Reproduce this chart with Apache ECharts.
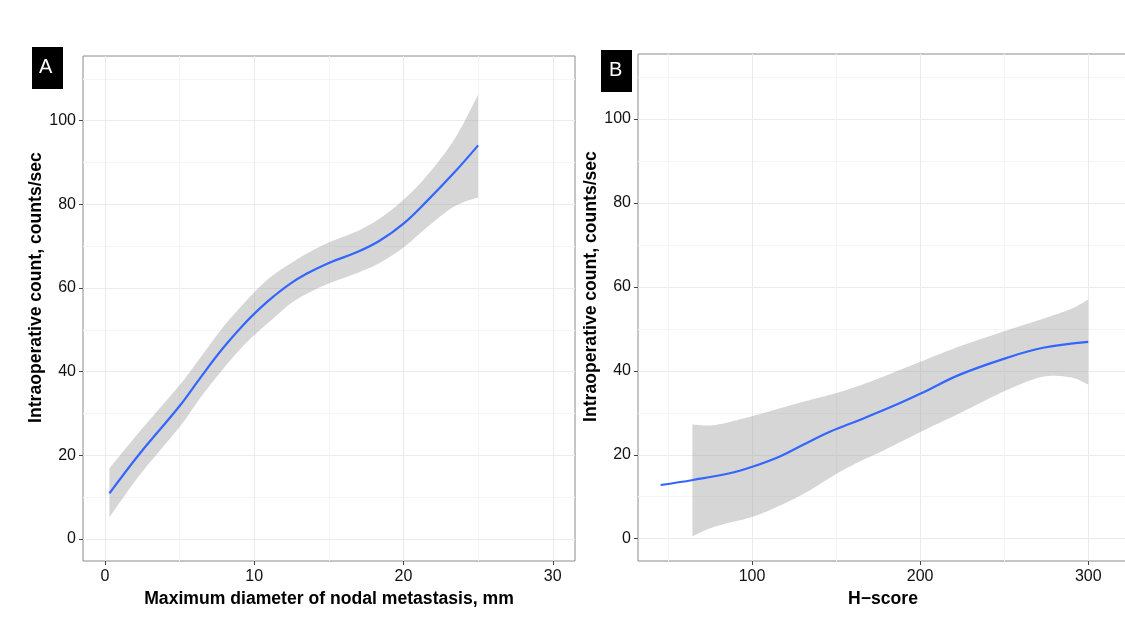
<!DOCTYPE html>
<html>
<head>
<meta charset="utf-8">
<script src="https://cdn.jsdelivr.net/npm/echarts@6/dist/echarts.min.js"></script>
<style>
html,body{margin:0;padding:0;background:#fff;}
#chart{width:1125px;height:631px;}
</style>
</head>
<body>
<div id="chart"></div>
<script>
// ---------- Panel A data ----------
const A_xTicks = [0, 10, 20, 30];
const A_xMinor = [5, 15, 25];
const yTicks = [0, 20, 40, 60, 80, 100];
const yMinor = [10, 30, 50, 70, 90, 110];

const A_fitX = [0.3, 2.35, 5, 6.4, 7.9, 9.3, 10.4, 11.3, 12.4, 13.5, 15, 16.9, 18.4, 20, 21.6, 23.4, 25];
const A_fitY = [10.9, 20.5, 31.8, 38.6, 45.6, 51.3, 55.2, 58.0, 61.0, 63.4, 66.0, 68.6, 71.3, 75.4, 80.9, 87.6, 94.1];
const A_bandX = [0.3, 2.35, 5, 6.4, 7.9, 9.3, 10.4, 11.3, 12.4, 13.5, 15, 16.9, 18.4, 20, 21.6, 23.4, 25];
const A_upper = [16.9, 25.8, 36.8, 43.4, 50.6, 56.3, 60.4, 63.2, 65.8, 68.2, 70.9, 73.6, 76.6, 81.1, 87.0, 95.5, 106.2];
const A_lower = [5.2, 15.4, 26.8, 33.8, 40.6, 46.3, 50.0, 52.8, 56.2, 58.6, 61.1, 63.6, 66.0, 69.7, 74.6, 79.5, 81.7];

// ---------- Panel B data ----------
const B_xTicks = [100, 200, 300];
const B_xMinor = [50, 150, 250];

const B_fitX = [45.6, 64.9, 86.7, 100.6, 116.5, 130.4, 146.3, 164, 183.9, 201.4, 223.6, 251.6, 273.2, 300];
const B_fitY = [12.8, 14.0, 15.6, 17.2, 19.6, 22.4, 25.5, 28.3, 31.6, 34.8, 39.1, 43.1, 45.5, 46.9];
const B_bandX = [64.5, 78, 100, 116, 132, 150, 164, 176, 201, 224, 252, 273, 290, 300];
const B_upper = [27.2, 27.1, 29.2, 31.0, 32.8, 34.7, 36.5, 38.3, 42.3, 45.9, 49.7, 52.4, 54.8, 57.0];
const B_lower = [0.6, 2.9, 5.2, 7.8, 11.0, 15.4, 18.4, 20.6, 25.6, 30.0, 35.5, 38.6, 38.4, 36.7];

const FONT = "'Liberation Sans', Arial, Helvetica, sans-serif";
const zip = (xs, ys) => xs.map((x, i) => [x, ys[i]]);

function mainX(grid, min, max, ticks, name, namePad) {
  return {
    gridIndex: grid, type: 'value', min: min, max: max,
    axisLine: {show: false, onZero: false},
    axisTick: {show: true, customValues: ticks, length: 4, lineStyle: {color: '#444', width: 1}},
    axisLabel: {customValues: ticks, margin: 8, fontSize: 16, color: '#111', fontFamily: FONT},
    splitLine: {show: true, lineStyle: {color: '#ebebeb', width: 1}},
    name: name, nameLocation: 'middle', nameGap: 21,
    nameTextStyle: {fontWeight: 'bold', fontSize: 17.6, color: '#000', fontFamily: FONT, padding: namePad}
  };
}
function minorX(grid, min, max, ticks) {
  return {
    gridIndex: grid, type: 'value', min: min, max: max, position: 'bottom',
    axisLine: {show: false, onZero: false},
    axisTick: {show: false, customValues: ticks},
    axisLabel: {show: false, customValues: ticks},
    splitLine: {show: true, lineStyle: {color: '#f5f5f5', width: 1}}
  };
}
function mainY(grid, min, max, ticks, name) {
  return {
    gridIndex: grid, type: 'value', min: min, max: max,
    axisLine: {show: false, onZero: false},
    axisTick: {show: true, customValues: ticks, length: 4, lineStyle: {color: '#444', width: 1}},
    axisLabel: {customValues: ticks, margin: 7, fontSize: 16, color: '#111', fontFamily: FONT},
    splitLine: {show: true, lineStyle: {color: '#ebebeb', width: 1}},
    name: name, nameLocation: 'middle', nameGap: 38,
    nameTextStyle: {fontWeight: 'bold', fontSize: 17.6, color: '#000', fontFamily: FONT,
                    padding: [0, 0, 0, 42]}
  };
}
function minorY(grid, min, max, ticks) {
  return {
    gridIndex: grid, type: 'value', min: min, max: max, position: 'left',
    axisLine: {show: false, onZero: false},
    axisTick: {show: false, customValues: ticks},
    axisLabel: {show: false, customValues: ticks},
    splitLine: {show: true, lineStyle: {color: '#f5f5f5', width: 1}}
  };
}

// Catmull-Rom curve through pixel points (rendering only)
function curvePts(p) {
  const out = [p[0]];
  const n = p.length;
  for (let i = 0; i < n - 1; i++) {
    const p0 = p[Math.max(0, i - 1)], p1 = p[i], p2 = p[i + 1], p3 = p[Math.min(n - 1, i + 2)];
    const c1 = [p1[0] + (p2[0] - p0[0]) / 6, p1[1] + (p2[1] - p0[1]) / 6];
    const c2 = [p2[0] - (p3[0] - p1[0]) / 6, p2[1] - (p3[1] - p1[1]) / 6];
    for (let k = 1; k <= 12; k++) {
      const t = k / 12, u = 1 - t;
      out.push([
        u*u*u*p1[0] + 3*u*u*t*c1[0] + 3*u*t*t*c2[0] + t*t*t*p2[0],
        u*u*u*p1[1] + 3*u*u*t*c1[1] + 3*u*t*t*c2[1] + t*t*t*p2[1]
      ]);
    }
  }
  return out;
}

function band(xi, yi, xs, lo, up) {
  return {
    type: 'custom', xAxisIndex: xi, yAxisIndex: yi, silent: true, z: 2, clip: true,
    data: xs.map((x, i) => [x, lo[i], up[i]]),
    encode: {x: 0, y: [1, 2]},
    renderItem: function (params, api) {
      if (params.dataIndex !== 0) return null;
      const upP = xs.map((x, i) => api.coord([x, up[i]]));
      const loP = xs.map((x, i) => api.coord([x, lo[i]]));
      const pts = curvePts(upP).concat(curvePts(loP).reverse());
      return {type: 'polygon', shape: {points: pts}, style: {fill: 'rgba(153,153,153,0.4)'}};
    }
  };
}
function fit(xi, yi, xs, ys) {
  return {type: 'line', xAxisIndex: xi, yAxisIndex: yi, data: zip(xs, ys), symbol: 'none',
          smooth: 0.4, lineStyle: {color: '#3366ff', width: 2.2}, silent: true, z: 3};
}

const chart = echarts.init(document.getElementById('chart'), null, {renderer: 'canvas'});
chart.setOption({
  animation: false,
  backgroundColor: '#ffffff',
  grid: [
    {left: 83, top: 56, width: 492, height: 505, show: true, borderColor: '#8c8c8c', borderWidth: 1,
     backgroundColor: 'transparent', outerBoundsMode: 'none', containLabel: false},
    {left: 638, top: 54, width: 500, height: 507, show: true, borderColor: '#8c8c8c', borderWidth: 1,
     backgroundColor: 'transparent', outerBoundsMode: 'none', containLabel: false}
  ],
  xAxis: [
    mainX(0, -1.47, 31.49, A_xTicks, 'Maximum diameter of nodal metastasis, mm', 0),
    minorX(0, -1.47, 31.49, A_xMinor),
    mainX(1, 32.14, 329.6, B_xTicks, 'H\u2212score', [0, 10, 0, 0]),
    minorX(1, 32.14, 329.6, B_xMinor)
  ],
  yAxis: [
    mainY(0, -5.26, 115.47, yTicks, 'Intraoperative count, counts/sec'),
    minorY(0, -5.26, 115.47, yMinor),
    mainY(1, -5.31, 115.5, yTicks, 'Intraoperative count, counts/sec'),
    minorY(1, -5.31, 115.5, yMinor)
  ],
  series: [
    band(0, 0, A_bandX, A_lower, A_upper),
    fit(0, 0, A_fitX, A_fitY),
    band(2, 2, B_bandX, B_lower, B_upper),
    fit(2, 2, B_fitX, B_fitY)
  ],
  graphic: [
    {type: 'rect', left: 32, top: 47, shape: {width: 31, height: 42}, style: {fill: '#000'}},
    {type: 'text', left: 39, top: 57, style: {text: 'A', fill: '#fff', font: '20px ' + FONT}},
    {type: 'rect', left: 601, top: 50, shape: {width: 31, height: 42}, style: {fill: '#000'}},
    {type: 'text', left: 609, top: 60, style: {text: 'B', fill: '#fff', font: '20px ' + FONT}}
  ]
});
</script>
</body>
</html>
